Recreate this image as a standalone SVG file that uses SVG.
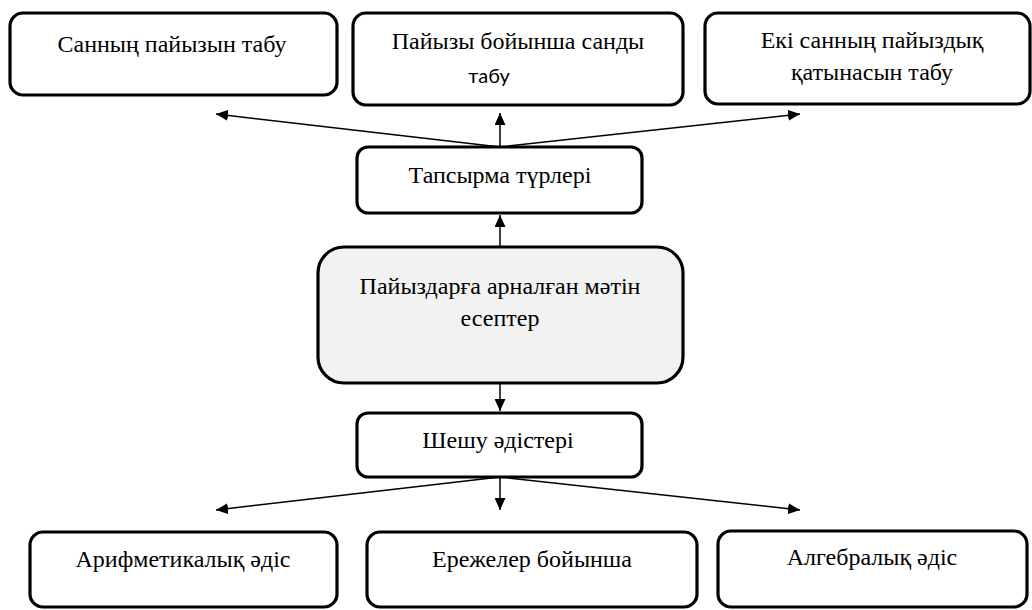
<svg xmlns="http://www.w3.org/2000/svg" width="1032" height="610" viewBox="0 0 1032 610">
<defs>
<style>
.box{fill:#fff;stroke:#000;stroke-width:3.2}
.main{fill:#f2f2f2;stroke:#000;stroke-width:3.2}
.t{font-family:'Liberation Serif','Times New Roman',serif;font-size:24px;fill:#000;text-anchor:middle}
.s{font-family:Lato,'Liberation Sans',sans-serif;font-size:20px;fill:#000;text-anchor:middle}
.c{stroke:#000;stroke-width:1.5;fill:none;marker-end:url(#ah)}
</style>
<marker id="ah" viewBox="0 0 12 11" refX="12" refY="5.5" markerWidth="12" markerHeight="11" markerUnits="userSpaceOnUse" orient="auto">
<path d="M0,0 L12,5.5 L0,11 z" fill="#000"/>
</marker>
</defs>
<rect width="1032" height="610" fill="#fff"/>
<g id="connectors">
<line class="c" x1="500" y1="147" x2="216" y2="114"/>
<line class="c" x1="500" y1="147" x2="500" y2="113"/>
<line class="c" x1="500" y1="147" x2="800" y2="114"/>
<line class="c" x1="500" y1="247" x2="500" y2="215"/>
<line class="c" x1="500" y1="383" x2="500" y2="411"/>
<line class="c" x1="500" y1="477" x2="216" y2="510"/>
<line class="c" x1="500" y1="477" x2="500" y2="510"/>
<line class="c" x1="500" y1="477" x2="800" y2="510"/>
</g>
<g id="n1"><rect class="box" x="10" y="13" width="327" height="82" rx="13"/><text class="t" x="172" y="52">Санның пайызын табу</text></g>
<g id="n2"><rect class="box" x="353" y="13" width="330" height="92" rx="13"/><text class="t" x="518" y="49">Пайызы бойынша санды</text><text class="s" x="489" y="83">табу</text></g>
<g id="n3"><rect class="box" x="705" y="13" width="325" height="91" rx="13"/><text class="t" x="872" y="48">Екі санның пайыздық</text><text class="t" x="872" y="80">қатынасын табу</text></g>
<g id="n4"><rect class="box" x="357" y="147" width="285" height="66" rx="11"/><text class="t" x="500" y="183">Тапсырма түрлері</text></g>
<g id="n5"><rect class="main" x="318" y="247" width="365" height="136" rx="26"/><text class="t" x="500" y="294">Пайыздарға арналған мәтін</text><text class="t" x="500" y="326">есептер</text></g>
<g id="n6"><rect class="box" x="357" y="413" width="285" height="64" rx="11"/><text class="t" x="498" y="448">Шешу әдістері</text></g>
<g id="n7"><rect class="box" x="30" y="532" width="307" height="75" rx="13"/><text class="t" x="183" y="567">Арифметикалық әдіс</text></g>
<g id="n8"><rect class="box" x="367" y="532" width="330" height="75" rx="13"/><text class="t" x="532" y="567">Ережелер бойынша</text></g>
<g id="n9"><rect class="box" x="718" y="531" width="309" height="76" rx="13"/><text class="t" x="872" y="565">Алгебралық әдіс</text></g>
</svg>
